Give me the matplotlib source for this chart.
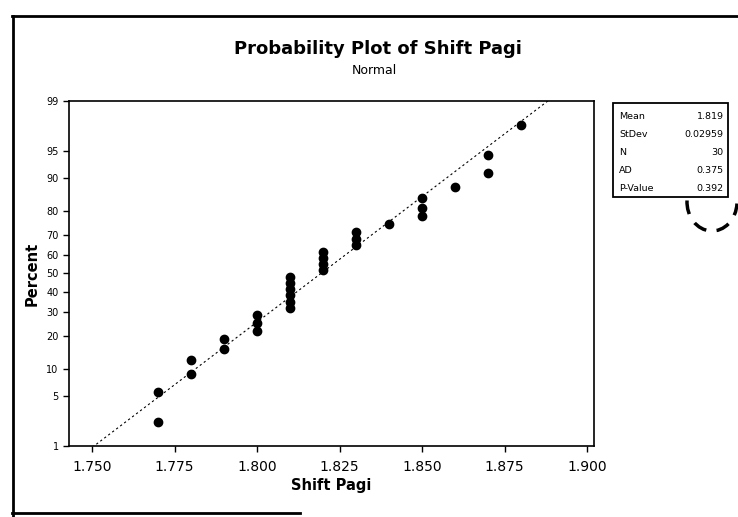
import numpy as np
import matplotlib
matplotlib.use("Agg")
import matplotlib.pyplot as plt
from matplotlib.patches import Arc
from matplotlib.lines import Line2D
from statistics import NormalDist

# observed values (Shift Pagi) and how many times each was seen
values = [1.77, 1.78, 1.79, 1.80, 1.81, 1.82, 1.83, 1.84, 1.85, 1.86, 1.87, 1.88]
counts = [2, 2, 2, 3, 6, 4, 3, 1, 3, 1, 2, 1]

pct_ticks = [1, 5, 10, 20, 30, 40, 50, 60, 70, 80, 90, 95, 99]
x_ticks = [1.750, 1.775, 1.800, 1.825, 1.850, 1.875, 1.900]

stats_names = ["Mean", "StDev", "N", "AD", "P-Value"]
stats_vals = ["1.819", "0.02959", "30", "0.375", "0.392"]

plt.rcParams['font.family'] = ['DejaVu Sans']

data = np.repeat(values, counts)
n = len(data)
ranks = np.arange(1, n + 1)
pct = (ranks - 0.3) / (n + 0.4)          # Benard median ranks
nd = NormalDist()
z = np.array([nd.inv_cdf(p) for p in pct])

mu = data.mean()
sd = data.std(ddof=1)

fig = plt.figure(figsize=(7.38, 5.17), dpi=100)
ax = fig.add_axes([0.0935, 0.137, 0.711, 0.668])

zlo, zhi = nd.inv_cdf(0.01), nd.inv_cdf(0.99)
zl = np.array([zlo - 0.3, zhi + 0.3])
ax.plot(mu + zl * sd, zl, color='black', lw=0.8, ls=(0, (2, 2.5)))
ax.plot(data, z, 'o', color='black', ms=6)

ax.set_xlim(1.743, 1.902)
ax.set_ylim(zlo, zhi)
ax.set_xticks(x_ticks)
ax.set_xticklabels(["%.3f" % v for v in x_ticks], fontsize=10)
ax.set_yticks([nd.inv_cdf(p / 100) for p in pct_ticks])
ax.set_yticklabels([str(p) for p in pct_ticks], fontsize=7)
ax.tick_params(direction='out', length=4, width=1)
ax.tick_params(axis='x', pad=6)
for s in ax.spines.values():
    s.set_linewidth(1.2)

ax.set_xlabel("Shift Pagi", fontsize=10.5, fontweight='bold', labelpad=3)
ax.set_ylabel("Percent", fontsize=10.5, fontweight='bold', labelpad=5)

fig.text(0.512, 0.905, "Probability Plot of Shift Pagi", ha='center', va='center',
         fontsize=13, fontweight='bold')
fig.text(0.507, 0.864, "Normal", ha='center', va='center', fontsize=9)

# statistics box
bx0, bx1 = 613 / 738, 728 / 738
by1, by0 = 1 - 103 / 517, 1 - 197 / 517
fig.patches.append(plt.Rectangle((bx0, by0), bx1 - bx0, by1 - by0, transform=fig.transFigure,
                                 fill=False, lw=1.3, color='black'))
for i, (nm, v) in enumerate(zip(stats_names, stats_vals)):
    yy = by1 - (i + 0.75) * (by1 - by0) / 5.2
    fig.text(bx0 + 0.008, yy, nm, fontsize=6.8, va='center', ha='left')
    fig.text(bx1 - 0.006, yy, v, fontsize=6.8, va='center', ha='right')

# hand drawn dashed ring near P-Value
fig.patches.append(Arc((712 / 738, 1 - 202 / 517), 50 / 738, 58 / 517, theta1=175, theta2=355,
                       transform=fig.transFigure, lw=2.5, ls=(0, (4, 3)), color='black'))

# outer frame (scan edges)
fig.add_artist(Line2D([12 / 738, 1.0], [1 - 16 / 517] * 2, color='black', lw=2))
fig.add_artist(Line2D([13 / 738] * 2, [1 - 16 / 517, 0.0], color='black', lw=2))
fig.add_artist(Line2D([12 / 738, 300 / 738], [1 - 513 / 517] * 2, color='black', lw=2))

fig.savefig("out.png", dpi=100)
